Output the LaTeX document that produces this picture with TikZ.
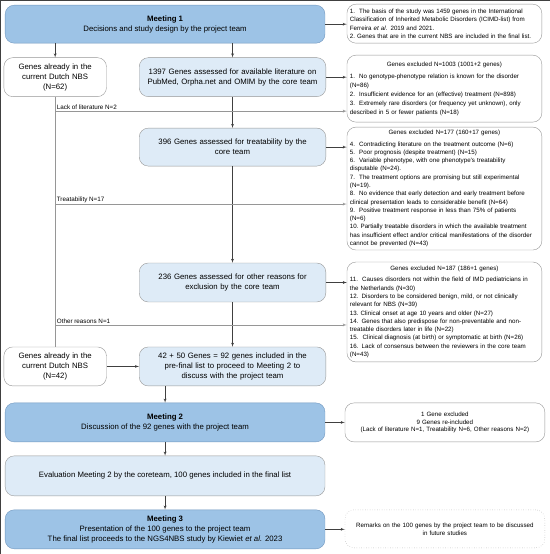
\documentclass[tikz,border=0pt]{standalone}
\usepackage{fontspec}
\setmainfont{Liberation Sans}
\usepackage{tikz}
\usetikzlibrary{arrows,shapes}
\definecolor{meetblue}{RGB}{157,195,230}
\definecolor{meetline}{RGB}{112,150,190}
\definecolor{paleblue}{RGB}{222,235,247}
\definecolor{boxline}{RGB}{150,150,150}
\tikzstyle{meeting} = [draw=meetline, fill=meetblue, rounded corners=9pt, minimum width=320pt, minimum height=38pt, align=center, font=\fontsize{7.8}{10}\selectfont]
\tikzstyle{assess} = [draw=boxline, fill=paleblue, rounded corners=9pt, minimum width=185pt, minimum height=39pt, text width=180pt, align=center, font=\fontsize{7.8}{10}\selectfont]
\tikzstyle{nbs} = [draw=boxline, fill=white, rounded corners=9pt, minimum width=100pt, minimum height=39pt, text width=96pt, align=center, font=\fontsize{7.8}{10}\selectfont]
\tikzstyle{excl} = [draw=boxline, fill=white, rounded corners=9pt, minimum width=195pt, text width=189pt, inner xsep=3pt, inner ysep=2pt, align=left, font=\fontsize{6.2}{8.3}\selectfont]
\tikzstyle{lbl} = [above right, inner sep=1.5pt, font=\fontsize{6.3}{7}\selectfont]

\begin{document}
\begin{tikzpicture}[x=1pt,y=-1pt,>=latex',thin,every path/.style={draw=black!75}]

    \useasboundingbox (0,0) rectangle (550,554);

    %meeting 1
    \node[meeting] at (165,24) (m1) {\textbf{Meeting 1}\\Decisions and study design by the project team};
    \node[excl, minimum height=39pt, font=\fontsize{6.2}{8.5}\selectfont] at (444.5,23.5) (basis) {1.\ \ The basis of the study was 1459 genes in the International\\Classification of Inherited Metabolic Disorders (ICIMD-list) from\\Ferreira \textit{et al.} 2019 and 2021.\\2.\ Genes that are in the current NBS are included in the final list.};

    %core team steps
    \node[nbs] at (55,77) (nbs62) {Genes already in the\\current Dutch NBS\\(N=62)};
    \node[assess] at (232.5,77) (lit) {1397 Genes assessed for available literature on\\PubMed, Orpha.net and OMIM by the core team};
    \node[assess, minimum height=38pt] at (232.5,147) (treat) {396 Genes assessed for treatability by the\\core team};
    \node[assess] at (232.5,282.5) (other) {236 Genes assessed for other reasons for\\exclusion by the core team};
    \node[nbs] at (55,366.5) (nbs42) {Genes already in the\\current Dutch NBS\\(N=42)};
    \node[assess] at (232.5,366.5) (pre) {42 + 50 Genes = 92 genes included in the\\pre-final list to proceed to Meeting 2 to\\discuss with the project team};

    %exclusions
    \node[excl, minimum height=67pt, font=\fontsize{6.2}{9}\selectfont] at (444.5,88.5) (ex1) {\centerline{Genes excluded N=1003 (1001+2 genes)}\par\vspace{3pt}
      1.\ \ No genotype-phenotype relation is known for the disorder\\(N=86)\\2.\ \ Insufficient evidence for an (effective) treatment (N=898)\\3.\ \ Extremely rare disorders (or frequency yet unknown), only\\described in 5 or fewer patients (N=18)};
    \node[excl, minimum height=123pt] at (444.5,188.5) (ex2) {\centerline{Genes excluded N=177 (160+17 genes)}\par\vspace{3pt}
      4.\ \ Contradicting literature on the treatment outcome (N=6)\\5.\ \ Poor prognosis (despite treatment) (N=15)\\6.\ \ Variable phenotype, with one phenotype's treatability\\disputable (N=24).\\7.\ \ The treatment options are promising but still experimental\\(N=19).\\8.\ \ No evidence that early detection and early treatment before\\clinical presentation leads to considerable benefit (N=64)\\9.\ \ Positive treatment response in less than 75\% of patients\\(N=6)\\10.\ Partially treatable disorders in which the available treatment\\has insufficient effect and/or critical manifestations of the disorder\\cannot be prevented (N=43)};
    \node[excl, minimum height=100pt] at (444.5,312) (ex3) {\centerline{Genes excluded N=187 (186+1 genes)}\par\vspace{3pt}
      11.\ \ Causes disorders not within the field of IMD pediatricians in\\the Netherlands (N=30)\\12. Disorders to be considered benign, mild, or not clinically\\relevant for NBS (N=39)\\13.\ Clinical onset at age 10 years and older (N=27)\\14. Genes that also predispose for non-preventable and non-\\treatable disorders later in life (N=22)\\15.\ \ Clinical diagnosis (at birth) or symptomatic at birth (N=26)\\16. Lack of consensus between the reviewers in the core team\\(N=43)};

    %meetings 2 and 3
    \node[meeting, minimum height=39pt] at (165,422.5) (m2) {\textbf{Meeting 2}\\Discussion of the 92 genes with the project team};
    \node[excl, minimum width=200pt, minimum height=39pt, align=center, font=\fontsize{6.2}{7.4}\selectfont] at (445,422.5) (reinc) {1 Gene excluded\\9 Genes re-included\\(Lack of literature N=1, Treatability N=6, Other reasons N=2)};
    \node[meeting, fill=paleblue, draw=boxline, minimum height=40pt] at (165,476) (eval) {Evaluation Meeting 2 by the coreteam, 100 genes included in the final list};
    \node[meeting, minimum height=39pt] at (165,529.5) (m3) {\textbf{Meeting 3}\\Presentation of the 100 genes to the project team\\The final list proceeds to the NGS4NBS study by Kiewiet \textit{et al.} 2023};
    \node[excl, dotted, minimum width=200pt, minimum height=38pt, align=center, font=\fontsize{6.2}{8}\selectfont] at (445,529) (future) {Remarks on the 100 genes by the project team to be discussed\\in future studies};

    %main flow
    \draw[->] (m1.south -| nbs62) -- (nbs62);
    \draw[->] (m1.south -| lit) -- (lit);
    \draw[->] (lit) -- (treat);
    \draw[->] (treat) -- (other);
    \draw[->] (other) -- (pre);
    \draw[->] (nbs42) -- (pre);
    \draw[->] (pre.south -| m2) -- (m2);
    \draw[->] (m2) -- (eval);
    \draw[->] (eval) -- (m3);
    \draw[draw=boxline] (nbs62) -- (nbs42);

    %side arrows
    \draw[->] (m1.east) -- (m1.east -| basis.west);
    \draw[->] (lit.east) -- (lit.east -| ex1.west);
    \draw[->] (treat.east) -- (treat.east -| ex2.west);
    \draw[->] (other.east) -- (other.east -| ex3.west);
    \draw[->] (m2) -- (reinc);
    \draw[->] (m3.east) -- (m3.east -| future.west);

    %excluded by the project team
    \coordinate (cLit) at (55,111);
    \coordinate (cTreat) at (55,204);
    \coordinate (cOther) at (55,325);
    \draw[->, draw=boxline] (cLit) -- (cLit -| ex1.west) node[pos=0, lbl] {Lack of literature N=2};
    \draw[->, draw=boxline] (cTreat) -- (cTreat -| ex2.west) node[pos=0, lbl] {Treatability N=17};
    \draw[->, draw=boxline] (cOther) -- (cOther -| ex3.west) node[pos=0, lbl] {Other reasons N=1};

\end{tikzpicture}
\end{document}
